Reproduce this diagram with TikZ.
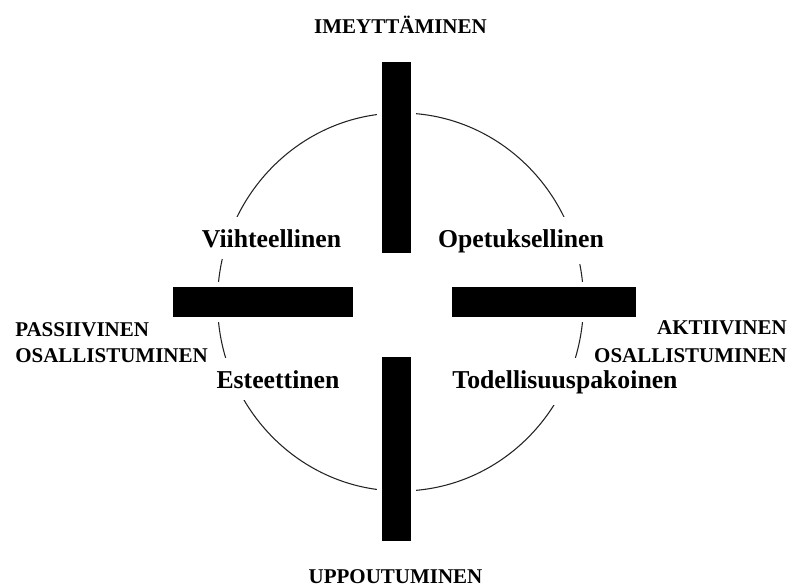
\documentclass[tikz,border=0pt]{standalone}
\usepackage{fontspec}
\setmainfont{Liberation Serif}
\definecolor{ink}{RGB}{0,0,0}
\definecolor{rim}{RGB}{35,35,35}
\tikzset{
    axisbar/.style={
        fill=ink,
        preaction={draw=white, line width=8pt}
    },
    rimline/.style={
        draw=rim,
        line width=0.8pt
    },
    polelabel/.style={
        font=\bfseries\fontsize{15.75pt}{19pt}\selectfont,
        text=ink,
        inner sep=0pt
    },
    quadlabel/.style={
        font=\bfseries\fontsize{19.3pt}{23pt}\selectfont,
        text=ink,
        fill=white,
        inner xsep=4pt,
        inner ysep=9pt
    }
}

\begin{document}
\begin{tikzpicture}[x=0.75pt, y=-0.75pt]
\useasboundingbox (0,0) rectangle (788,587);

% Circle behind everything
\draw[rimline] (400.5,302) ellipse [x radius=183, y radius=189];

% Quadrant labels (white box breaks the circle)
\node[quadlabel, anchor=base] (viihde) at (271.5,247) {Viihteellinen};
\node[quadlabel, anchor=base] (opetus) at (521,247) {Opetuksellinen};
\node[quadlabel, anchor=base] (esteet) at (278,388) {Esteettinen};
\node[quadlabel, anchor=base] (todell) at (565,388) {Todellisuuspakoinen};

% The four bars of the cross
\path[axisbar] (382,62) rectangle (411,253);
\path[axisbar] (382,357) rectangle (411,541);
\path[axisbar] (173,287) rectangle (353,317);
\path[axisbar] (452,287) rectangle (636,317);

% Pole labels
\node[polelabel, anchor=base] (imey) at (400.5,33) {IMEYTTÄMINEN};
\node[polelabel, anchor=base] (uppo) at (395.5,583) {UPPOUTUMINEN};
\node[polelabel, anchor=base west, align=left] (passiv) at (15,362) {PASSIIVINEN\\OSALLISTUMINEN};
\node[polelabel, anchor=base east, align=right,
      font=\bfseries\fontsize{15.75pt}{21pt}\selectfont] (aktiiv) at (787,362) {AKTIIVINEN\\OSALLISTUMINEN};
\end{tikzpicture}
\end{document}
